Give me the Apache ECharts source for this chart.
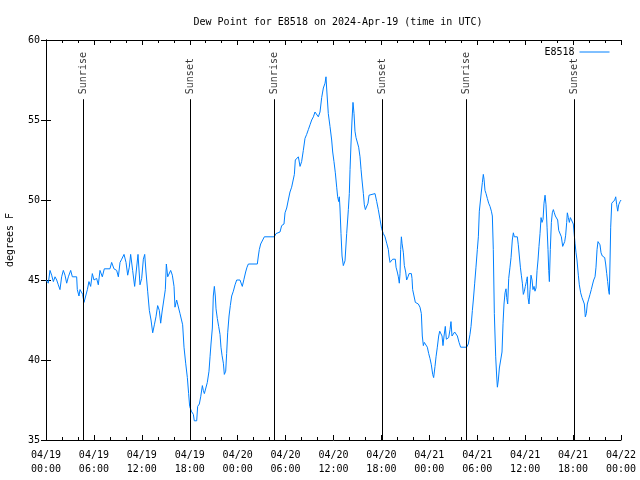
<!DOCTYPE html>
<html><head><meta charset="utf-8">
<script src="https://cdn.jsdelivr.net/npm/echarts@6/dist/echarts.min.js"></script>
<style>html,body{margin:0;padding:0;background:#fff}#c{width:640px;height:480px}</style>
</head><body><div id="c"></div>
<script>
// hours since 2024-04-19 00:00 UTC
var hours = [0,0.29,0.5,0.71,0.92,1.13,1.34,1.54,1.75,1.96,2.17,2.38,2.59,2.8,3.09,3.3,3.84,3.92,4.13,4.26,4.51,4.59,4.76,4.97,5.18,5.38,5.59,5.8,6.01,6.34,6.55,6.76,7.05,7.3,8.01,8.22,8.51,8.85,9.06,9.27,9.48,9.77,10.02,10.23,10.43,10.6,10.85,11.1,11.35,11.52,11.77,11.98,12.19,12.36,12.52,12.73,12.94,13.15,13.36,13.57,13.77,13.98,14.19,14.36,14.53,14.78,14.94,15.07,15.24,15.4,15.61,15.82,16.03,16.15,16.36,16.61,16.78,17.11,17.28,17.49,17.7,17.86,17.99,18.2,18.45,18.57,18.87,18.99,19.2,19.37,19.58,19.7,19.83,20.04,20.2,20.41,20.54,20.66,20.83,20.95,21.08,21.2,21.29,21.45,21.62,21.79,21.91,22.04,22.21,22.33,22.5,22.62,22.75,22.92,23.08,23.25,23.46,23.67,23.88,24.29,24.42,24.58,24.79,25.0,25.17,25.34,26.46,26.59,26.71,26.88,27.13,27.34,28.59,28.8,29.3,29.51,29.8,29.93,30.14,30.34,30.55,30.76,30.97,31.1,31.22,31.6,31.81,32.01,32.22,32.43,32.64,32.85,33.06,33.27,33.48,33.68,33.89,34.1,34.31,34.52,34.73,34.94,35.06,35.14,35.35,35.56,35.77,35.9,36.06,36.23,36.4,36.52,36.65,36.73,36.81,36.94,37.07,37.23,37.44,37.65,37.86,37.98,38.07,38.19,38.32,38.44,38.57,38.69,38.82,38.99,39.15,39.32,39.45,39.57,39.74,39.86,39.99,40.15,40.32,40.45,41.2,41.41,41.61,41.82,42.03,42.24,42.45,42.66,42.87,42.95,43.08,43.28,43.41,43.74,43.83,43.99,44.12,44.24,44.33,44.41,44.5,44.58,44.66,44.75,44.87,45.04,45.16,45.33,45.46,45.75,45.83,45.91,46.08,46.25,46.62,46.83,47.0,47.12,47.25,47.37,47.58,47.75,47.92,48.08,48.25,48.42,48.54,48.71,48.84,49.0,49.17,49.3,49.46,49.59,49.71,49.84,50.0,50.13,50.42,50.59,50.71,50.84,51.01,51.17,51.34,51.51,51.72,51.92,52.67,52.88,53.09,53.22,53.39,53.51,53.68,53.84,54.01,54.14,54.26,54.35,54.51,54.64,54.76,54.85,54.97,55.1,55.26,55.43,55.6,55.77,55.89,56.01,56.14,56.31,56.43,56.52,56.64,56.77,56.98,57.1,57.23,57.35,57.48,57.6,57.69,57.81,57.94,58.1,58.23,58.39,58.52,58.64,59.02,59.14,59.27,59.4,59.52,59.65,59.77,59.9,60.02,60.15,60.27,60.36,60.48,60.61,60.73,60.86,60.98,61.11,61.23,61.36,61.49,61.61,61.73,61.86,61.99,62.11,62.24,62.36,62.49,62.61,62.74,62.86,62.95,63.03,63.15,63.28,63.4,63.53,63.65,63.78,63.95,64.07,64.2,64.36,64.53,64.7,64.82,64.95,65.07,65.2,65.28,65.41,65.53,65.66,65.91,66.03,66.16,66.24,66.37,66.49,66.66,66.78,66.95,67.12,67.28,67.41,67.53,67.66,67.78,67.95,68.12,68.28,68.45,68.58,68.75,68.87,69.0,69.12,69.25,69.37,69.5,69.66,69.79,69.96,70.08,70.21,70.33,70.46,70.54,70.63,70.71,70.84,71.04,71.21,71.34,71.46,71.59,71.71,71.88,72];
var dewPoint = [45.0,44.8,45.6,45.3,44.9,45.2,45.0,44.7,44.4,45.2,45.6,45.3,44.8,45.2,45.6,45.2,45.2,44.4,44.0,44.4,44.4,44.1,43.6,44.0,44.4,44.9,44.6,45.4,45.0,45.1,44.7,45.6,45.2,45.7,45.7,46.1,45.7,45.6,45.2,46.1,46.3,46.6,46.1,45.3,45.8,46.6,45.6,44.6,44.6,46.6,44.7,45.1,46.3,46.6,45.5,44.3,43.1,42.5,41.7,42.2,42.7,43.4,43.1,42.3,43.0,43.0,44.4,46.0,45.2,45.2,45.6,45.3,44.6,43.3,43.75,43.75,42.9,42.2,40.8,39.8,38.9,37.9,37.1,36.8,36.6,36.2,36.2,37.1,37.25,37.7,38.4,38.1,37.9,37.9,38.6,39.3,40.2,41.0,42.0,44.0,44.6,44.0,43.2,42.6,42.1,41.6,40.8,40.3,39.8,39.1,39.3,40.4,41.7,42.75,43.4,44.0,44.3,44.7,45.0,45.0,44.9,44.6,45.05,45.5,45.8,46.0,46.0,46.5,46.9,47.25,47.25,47.7,47.7,47.9,48.0,48.4,48.5,49.2,49.5,50.0,50.5,50.8,50.9,51.6,52.5,52.7,52.1,52.4,53.1,53.85,54.1,54.4,54.7,55.0,55.2,55.5,55.4,55.2,55.5,56.4,57.0,57.3,57.7,57.0,55.4,54.6,53.75,53.0,52.4,51.7,50.8,50.2,49.9,50.2,49.5,47.9,46.5,45.9,46.2,47.9,49.4,50.4,51.9,53.5,55.0,56.1,55.4,54.3,53.9,53.8,53.3,52.7,51.9,51.25,50.4,49.7,49.4,49.4,49.8,50.3,50.4,49.9,49.4,48.8,48.2,47.9,47.7,47.3,46.9,46.5,46.1,46.0,46.3,46.3,45.8,45.5,45.2,44.8,45.4,46.9,47.7,47.3,47.3,46.7,45.9,45.5,45.0,45.2,45.4,45.4,45.1,44.4,44.0,43.6,43.5,43.3,42.9,41.5,40.9,41.1,41.1,40.8,40.4,40.1,39.7,39.1,38.9,39.6,40.2,40.8,41.5,41.8,41.8,41.5,40.9,41.5,42.1,41.3,41.4,41.9,42.4,41.5,41.5,41.75,41.75,41.5,41.1,40.8,40.8,41.0,41.6,42.1,43.1,43.75,44.8,45.8,46.9,47.7,49.3,49.4,50.5,51.1,51.6,51.3,50.6,50.4,50.1,49.8,49.6,49.3,49.0,46.9,42.9,40.2,39.0,38.3,38.75,39.5,39.5,40.5,42.3,43.5,44.2,44.45,43.9,43.5,45.1,45.8,46.4,47.5,47.95,47.7,47.7,47.2,46.5,45.8,45.3,44.8,44.1,44.3,44.6,44.9,45.2,43.9,43.5,44.4,45.3,45.0,44.4,44.6,44.3,44.5,45.6,46.25,47.1,47.9,48.9,48.6,48.8,49.8,50.3,49.7,48.3,46.9,45.6,44.9,46.9,48.6,49.2,49.4,49.2,49.0,49.0,48.75,48.1,48.1,47.7,47.1,47.2,47.4,47.8,48.6,49.2,48.9,48.6,48.9,48.9,48.5,48.4,47.3,46.7,46.25,45.3,44.7,44.2,43.9,43.9,43.5,42.7,42.9,43.5,43.8,44.1,44.4,44.75,45.0,45.2,45.8,46.9,47.4,47.5,47.2,46.7,46.5,46.4,46.4,46.0,45.4,44.9,44.3,44.1,46.25,48.3,49.8,49.9,50.0,50.2,49.7,49.3,49.7,49.9,50.0];
var sunHours = [4.63, 18.07, 28.59, 42.12, 52.63, 66.12];
var sunLabels = ['Sunrise', 'Sunset', 'Sunrise', 'Sunset', 'Sunrise', 'Sunset'];
var yTicks = [35, 40, 45, 50, 55, 60];
var seriesName = 'E8518';
var titleText = 'Dew Point for E8518 on 2024-Apr-19 (time in UTC)';

var FONT = 'DejaVu Sans Mono';
var LINE_TOP = 56.3;
var BLUE = '#0080ff';
function pad(n){return (n<10?'0':'')+n;}
function xLabel(h){
  var d = 19 + Math.floor(h/24);
  var hh = Math.round(h - (d-19)*24);
  return '04/' + pad(d) + '\n' + pad(hh) + ':00';
}
var lineData = hours.map(function(h,i){return [h, dewPoint[i]];});
var chart = echarts.init(document.getElementById('c'), null, {renderer:'canvas'});
var axisCommon = {
  axisLine:{show:true, lineStyle:{color:'#000', width:1}},
  axisTick:{show:true, inside:true, length:5, lineStyle:{color:'#000'}},
  splitLine:{show:false}
};
chart.setOption({
  animation:false,
  backgroundColor:'#fff',
  textStyle:{fontFamily:FONT, fontSize:10, color:'#000'},
  title:{text:titleText, left:333, top:12, textAlign:'center',
    textStyle:{fontFamily:FONT, fontSize:10, fontWeight:'normal', color:'#000'}},
  legend:{data:[seriesName], right:25, top:42, itemWidth:30, itemHeight:10, align:'right',
    itemStyle:{opacity:0}, lineStyle:{width:1, color:BLUE},
    textStyle:{fontFamily:FONT, fontSize:10, color:'#000'}, selectedMode:false},
  grid:{left:46, right:19, top:40, bottom:40, containLabel:false, outerBoundsMode:'none'},
  xAxis:[
    Object.assign({type:'value', min:0, max:72, interval:6, position:'bottom',
      minorTick:{show:true, splitNumber:3, length:3, lineStyle:{color:'#000'}},
      axisLabel:{formatter:xLabel, fontFamily:FONT, fontSize:10, color:'#000', margin:8, lineHeight:14}}, axisCommon),
    Object.assign({type:'value', min:0, max:72, interval:6, position:'top',
      minorTick:{show:true, splitNumber:3, length:3, lineStyle:{color:'#000'}},
      axisLabel:{show:false}}, axisCommon)
  ],
  yAxis:[
    Object.assign({type:'value', min:yTicks[0], max:yTicks[yTicks.length-1], interval:5, position:'left',
      name:'degrees F', nameLocation:'middle', nameGap:31, nameRotate:90,
      nameTextStyle:{fontFamily:FONT, fontSize:10, color:'#000'},
      axisLabel:{fontFamily:FONT, fontSize:10, color:'#000', margin:6}}, axisCommon),
    Object.assign({type:'value', min:yTicks[0], max:yTicks[yTicks.length-1], interval:5, position:'right',
      axisLabel:{show:false}}, axisCommon)
  ],
  series:[
    {name:seriesName, type:'line', data:lineData, symbol:'none', showSymbol:false,
      lineStyle:{color:BLUE, width:1}, itemStyle:{color:BLUE},
      markLine:{silent:true, symbol:['none','none'], label:{show:false},
        lineStyle:{color:'#000', width:1, type:'solid'},
        data: sunHours.map(function(h){return [{coord:[h, 35]}, {coord:[h, LINE_TOP]}];})}
    },
    {name:'sun', type:'scatter', data: sunHours.map(function(h){return [h, LINE_TOP];}),
      symbolSize:0, silent:true,
      label:{show:true, position:'top', distance:5, rotate:90, align:'left', verticalAlign:'middle',
        fontFamily:FONT, fontSize:10, color:'#000',
        formatter:function(p){return sunLabels[p.dataIndex];}}
    }
  ]
});
</script></body></html>
